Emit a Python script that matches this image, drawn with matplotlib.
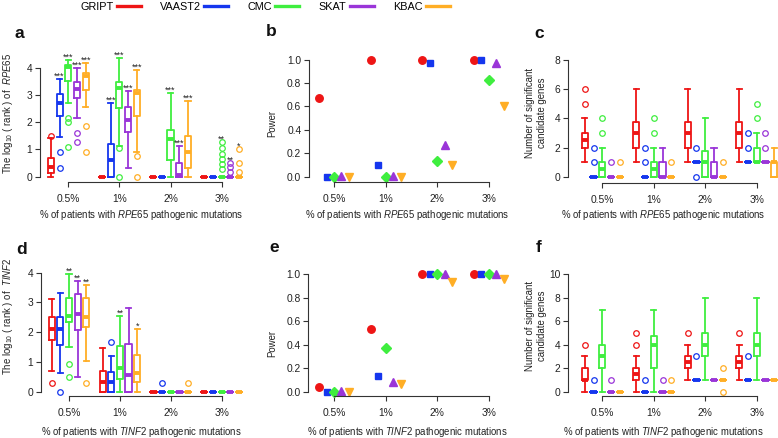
import matplotlib
matplotlib.use("Agg")
import matplotlib.pyplot as plt
from matplotlib.lines import Line2D

# ---------------- data ----------------
methods = ["GRIPT", "VAAST2", "CMC", "SKAT", "KBAC"]
colors = ["#EE1515", "#1536EE", "#3FEE3F", "#9A35D8", "#FFAE25"]
pct_labels = ["0.5%", "1%", "2%", "3%"]

# Panel a: log10(rank) of RPE65  (rows = % groups, cols = methods)
rpe_rank_whislo = [[0, 1.47, 2.72, 2.17, 2.57], [0, 0, 1.14, 0.31, 0.92], [0, 0, 0, 0, 0], [0, 0, 0, 0, 0]]
rpe_rank_q1 = [[0.15, 2.23, 3.52, 2.88, 3.18], [0, 0, 2.51, 1.65, 2.24], [0, 0, 0.61, 0, 0.31], [0, 0, 0, 0, 0]]
rpe_rank_med = [[0.37, 2.69, 4.01, 3.2, 3.7], [0, 0.61, 3.27, 2.08, 3.06], [0, 0, 1.37, 0.05, 0.89], [0, 0, 0, 0, 0]]
rpe_rank_q3 = [[0.67, 3.02, 4.1, 3.49, 3.79], [0, 1.19, 3.49, 2.57, 3.18], [0, 0, 1.71, 0.49, 1.5], [0, 0, 0, 0, 0]]
rpe_rank_whishi = [[1.43, 3.59, 4.28, 3.98, 4.19], [0, 2.69, 4.34, 3.16, 3.92], [0, 0, 3.08, 1.14, 2.78], [0, 0, 0, 0, 0]]
rpe_rank_fliers = [
    [[1.5], [0.92, 0.32], [2.17, 2.02, 1.08], [1.59, 1.28], [1.86, 0.91]],
    [[], [], [1.06, 0], [], [0.77, 0]],
    [[], [], [], [], []],
    [[], [], [1.29, 1.04, 0.83, 0.64, 0.45, 0.28], [0.49, 0.34, 0.18], [1.02, 0.49, 0.18]],
]
rpe_rank_stars = [["", "***", "***", "***", "***"], ["", "***", "***", "***", "***"],
                  ["", "", "***", "***", "***"], ["", "", "**", "**", "*"]]

# Panel d: log10(rank) of TINF2
tinf_rank_whislo = [[0.71, 0.62, 1.51, 0.49, 1.03], [0, 0, 0, 0, 0], [0, 0, 0, 0, 0], [0, 0, 0, 0, 0]]
tinf_rank_q1 = [[1.73, 1.56, 2.34, 2.07, 2.17], [0, 0, 0.43, 0, 0.31], [0, 0, 0, 0, 0], [0, 0, 0, 0, 0]]
tinf_rank_med = [[2.11, 2.11, 2.55, 2.6, 2.5], [0.31, 0.31, 0.8, 0.56, 0.64], [0, 0, 0, 0, 0], [0, 0, 0, 0, 0]]
tinf_rank_q3 = [[2.5, 2.5, 3.16, 3.27, 3.14], [0.69, 0.67, 1.52, 1.59, 1.23], [0, 0, 0, 0, 0], [0, 0, 0, 0, 0]]
tinf_rank_whishi = [[3.1, 3.32, 3.95, 3.72, 3.59], [1.48, 1.2, 2.54, 2.82, 2.11], [0, 0, 0, 0, 0], [0, 0, 0, 0, 0]]
tinf_rank_fliers = [
    [[0.3], [0], [0.92, 0.49], [], [0.3]],
    [[], [1.67], [], [], []],
    [[], [0.3], [], [], [0.3]],
    [[], [], [], [], []],
]
tinf_rank_stars = [["", "", "**", "**", "**"], ["", "", "**", "", "*"],
                   ["", "", "", "", ""], ["", "", "", "", ""]]

# Panel c: number of significant candidate genes (RPE65)
rpe_count_whislo = [[1, 0, 0, 0, 0], [1, 0, 0, 0, 0], [1, 1, 0, 0, 0], [1, 1, 1, 1, 0]]
rpe_count_q1 = [[2, 0, 0, 0, 0], [2, 0, 0, 0, 0], [2, 1, 0, 0, 0], [2, 1, 1, 1, 0]]
rpe_count_med = [[2.5, 0, 0.5, 0, 0], [3, 0, 0.5, 0, 0], [3, 1, 1, 0, 0], [3, 1, 1, 1, 1]]
rpe_count_q3 = [[3, 0, 1, 0, 0], [3.75, 0, 1, 1, 0], [3.75, 1, 1.75, 1, 0], [3.75, 1, 2, 1, 1]]
rpe_count_whishi = [[4, 0, 2, 0, 0], [6, 0, 2, 2, 0], [6, 1, 4, 2, 0], [6, 1, 3, 1, 2]]
rpe_count_fliers = [
    [[6, 5], [2, 1], [4, 3], [1], [1]],
    [[], [2, 1], [4, 3], [], [1]],
    [[], [2, 0], [], [], [1]],
    [[], [3, 2], [5, 4], [3, 2], []],
]

# Panel f: number of significant candidate genes (TINF2)
tinf_count_whislo = [[0, 0, 0, 0, 0], [0, 0, 0, 0, 0], [1, 1, 1, 1, 1], [1, 1, 1, 1, 1]]
tinf_count_q1 = [[1, 0, 2, 0, 0], [1, 0, 2, 0, 0], [2, 1, 3, 1, 1], [2, 1, 3, 1, 1]]
tinf_count_med = [[1, 0, 3, 0, 0], [1.5, 0, 4, 0, 0], [2.5, 1, 4, 1, 1], [2.5, 1, 4, 1, 1]]
tinf_count_q3 = [[2, 0, 4, 0, 0], [2, 0, 4.75, 0, 0], [3, 1, 5, 1, 1], [3, 1, 5, 1, 1]]
tinf_count_whishi = [[3, 0, 7, 0, 0], [3, 0, 7, 0, 0], [4, 1, 8, 1, 1], [4, 1, 8, 1, 1]]
tinf_count_fliers = [
    [[4], [1], [], [1], []],
    [[5, 4], [1], [], [1], [1]],
    [[5], [3], [], [], [2, 0]],
    [[5], [3], [], [], []],
]

# Panels b, e: power
rpe_power = [[0.67, 0, 0, 0.01, 0], [1.0, 0.1, 0, 0.01, 0], [1.0, 0.97, 0.13, 0.27, 0.1], [1.0, 1.0, 0.83, 0.97, 0.6]]
tinf_power = [[0.04, 0, 0, 0.01, 0], [0.53, 0.135, 0.37, 0.08, 0.065], [1.0, 1.0, 1.0, 1.0, 0.93], [1.0, 1.0, 1.0, 1.0, 0.96]]

# ---------------- style ----------------
plt.rcParams["font.family"] = ["Liberation Sans", "DejaVu Sans"]
plt.rcParams["mathtext.fontset"] = "custom"
plt.rcParams["mathtext.rm"] = "Liberation Sans"
plt.rcParams["mathtext.it"] = "Liberation Sans:italic"
plt.rcParams["mathtext.bf"] = "Liberation Sans:bold"

W, H = 778, 438
fig = plt.figure(figsize=(W / 100, H / 100), dpi=100)
TXT = "#222222"
box_offsets = [-0.34, -0.17, 0.0, 0.17, 0.34]
pow_offsets = [-0.29, -0.145, 0.0, 0.145, 0.29]
pow_markers = ["o", "s", "D", "^", "v"]
pow_sizes = [5.4, 4.8, 4.6, 6.2, 6.2]


def px_axes(left, right, top, bottom, x1, sx, y0, sy, yticks, yfmt):
    ax = fig.add_axes([left / W, 1 - bottom / H, (right - left) / W, (bottom - top) / H])
    for s in ["top", "right"]:
        ax.spines[s].set_visible(False)
    for s in ["left", "bottom"]:
        ax.spines[s].set_linewidth(0.8)
        ax.spines[s].set_color("#333333")
    ax.spines["left"].set_bounds(yticks[0], yticks[-1])
    ax.spines["bottom"].set_bounds(1, 4)
    ax.set_xticks([1, 2, 3, 4])
    ax.set_xticklabels(pct_labels)
    ax.set_yticks(yticks)
    ax.set_yticklabels([yfmt.format(v) for v in yticks])
    ax.tick_params(axis="both", direction="out", length=3.5, width=0.8, color="#333333",
                   labelsize=7.4, labelcolor=TXT)
    ax.tick_params(axis="x", pad=5)
    ax.tick_params(axis="y", pad=2)
    ax.patch.set_visible(False)
    ax._geom = (left, right, top, bottom, x1, sx, y0, sy)
    return ax


def set_limits(ax):
    left, right, top, bottom, x1, sx, y0, sy = ax._geom
    ax.set_xlim(1 + (left - x1) / sx, 1 + (right - x1) / sx)
    ax.set_ylim(-(bottom - y0) / sy, (y0 - top) / sy)


def draw_boxes(ax, whislo, q1, med, q3, whishi, fliers, stars=None):
    for g in range(4):
        for m in range(5):
            c = colors[m]
            st = dict(whislo=whislo[g][m], q1=q1[g][m], med=med[g][m], q3=q3[g][m],
                      whishi=whishi[g][m], fliers=fliers[g][m])
            pos = g + 1 + box_offsets[m]
            ax.bxp([st], positions=[pos], widths=0.12, capwidths=0.1, manage_ticks=False,
                   boxprops=dict(color=c, lw=1.3),
                   whiskerprops=dict(color=c, lw=1.3),
                   capprops=dict(color=c, lw=1.3),
                   medianprops=dict(color=c, lw=2.8, solid_capstyle="butt"),
                   flierprops=dict(marker="o", markerfacecolor="none", markeredgecolor=c,
                                   markersize=4.0, markeredgewidth=0.9, linestyle="none"))
            if stars and stars[g][m]:
                top = max([whishi[g][m]] + list(fliers[g][m]))
                ax.annotate(stars[g][m], (pos, top), xytext=(0, 0.2), textcoords="offset points",
                            ha="center", va="baseline", fontsize=6.6, color=TXT)
    set_limits(ax)


def draw_power(ax, vals):
    for g in range(4):
        for m in range(5):
            ax.plot(g + 1 + pow_offsets[m], vals[g][m], marker=pow_markers[m], color=colors[m],
                    markersize=pow_sizes[m], linestyle="none", clip_on=False)
    set_limits(ax)


ax_a = px_axes(40, 262, 50, 181.7, 68.3, 51.13, 176.7, 27.25, [0, 1, 2, 3, 4], "{:d}")
draw_boxes(ax_a, rpe_rank_whislo, rpe_rank_q1, rpe_rank_med, rpe_rank_q3, rpe_rank_whishi,
           rpe_rank_fliers, rpe_rank_stars)
ax_b = px_axes(309, 520, 50, 182, 334, 51.57, 176.7, 117, [0, 0.2, 0.4, 0.6, 0.8, 1.0], "{:.1f}")
draw_power(ax_b, rpe_power)
ax_c = px_axes(568.3, 778, 50, 182.7, 602.3, 51.47, 176.7, 14.58, [0, 2, 4, 6, 8], "{:d}")
draw_boxes(ax_c, rpe_count_whislo, rpe_count_q1, rpe_count_med, rpe_count_q3, rpe_count_whishi,
           rpe_count_fliers)
ax_d = px_axes(40.7, 262, 262, 395.7, 69, 50.9, 391.7, 29.75, [0, 1, 2, 3, 4], "{:d}")
draw_boxes(ax_d, tinf_rank_whislo, tinf_rank_q1, tinf_rank_med, tinf_rank_q3, tinf_rank_whishi,
           tinf_rank_fliers, tinf_rank_stars)
ax_e = px_axes(308.3, 520, 262, 395.7, 334, 51.57, 391.7, 117.7, [0, 0.2, 0.4, 0.6, 0.8, 1.0], "{:.1f}")
draw_power(ax_e, tinf_power)
ax_f = px_axes(568.3, 778, 262, 395.7, 602.3, 51.47, 391.7, 11.74, [0, 2, 4, 6, 8, 10], "{:d}")
draw_boxes(ax_f, tinf_count_whislo, tinf_count_q1, tinf_count_med, tinf_count_q3, tinf_count_whishi,
           tinf_count_fliers)


def ftext(x, y, s, **kw):
    fig.text(x / W, 1 - y / H, s, **kw)


lab = dict(fontsize=6.9, color=TXT, ha="center", va="center")
ftext(8, 113, r"The log$_{10}$ ( rank ) of  $\mathit{RPE65}$", rotation=90, **lab)
ftext(8, 316, r"The log$_{10}$ ( rank ) of  $\mathit{TINF2}$", rotation=90, **lab)
ftext(272, 123, "Power", rotation=90, **lab)
ftext(272, 343, "Power", rotation=90, **lab)
ftext(536, 113, "Number of significant\ncandidate genes", rotation=90, linespacing=1.15, **lab)
ftext(536, 326, "Number of significant\ncandidate genes", rotation=90, linespacing=1.15, **lab)
for xc in (141, 407, 663):
    ftext(xc, 215, r"% of patients with $\mathit{RPE65}$ pathogenic mutations", **lab)
    ftext(xc, 432, r"% of patients with $\mathit{TINF2}$ pathogenic mutations", **lab)

for (x, y, s) in [(19, 33, "a"), (271, 31, "b"), (539, 33, "c"),
                  (22, 249, "d"), (274, 248, "e"), (539, 248, "f")]:
    ftext(x, y, s, fontsize=12.5, fontweight="bold", color="#111111", ha="center", va="center")

handles = [Line2D([0], [0], color=c, lw=2.4) for c in colors]
fig.legend(handles, methods, loc="upper center", bbox_to_anchor=(265 / W, 1 - 1.5 / H), ncol=5,
           frameon=False, markerfirst=False, handlelength=2.2, handletextpad=0.3,
           columnspacing=1.8, borderpad=0.0, borderaxespad=0.0,
           prop={"size": 7.8})

fig.savefig("out.png", dpi=100)
